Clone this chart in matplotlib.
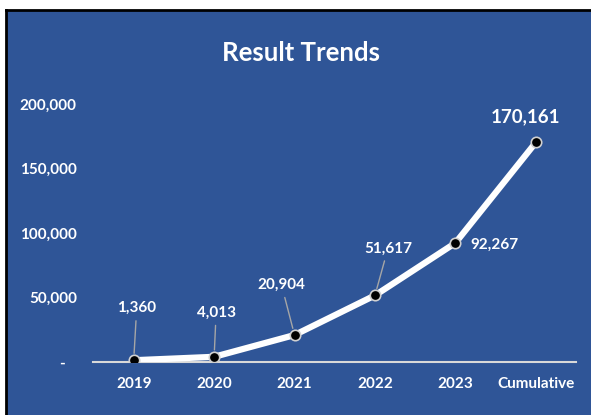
import matplotlib.pyplot as plt
from matplotlib.patches import Rectangle
from matplotlib.lines import Line2D

categories = ['2019', '2020', '2021', '2022', '2023', 'Cumulative']
results = [1360, 4013, 20904, 51617, 92267, 170161]
value_labels = ['1,360', '4,013', '20,904', '51,617', '92,267', '170,161']
ytick_values = [0, 50000, 100000, 150000, 200000]
ytick_labels = ['-   ', '50,000', '100,000', '150,000', '200,000']

# label offsets in pixels and whether a leader line is drawn
offsets = [(3, 52), (2, 44), (-13, 50), (13, 47), (39, -2), (-10, 26)]
leaders = [True, True, True, True, False, False]

BLUE = '#2F5597'
FONT = 'Lato'

fig = plt.figure(figsize=(5.91, 4.15), dpi=100)
fig.patch.set_facecolor('white')

# blue panel with black edge on top and left
W, H = 591, 415
fig.patches.append(Rectangle((7 / W, 0), 1, (H - 11) / H, transform=fig.transFigure,
                             facecolor=BLUE, edgecolor='none', zorder=-5))
fig.lines.append(Line2D([6 / W, 6 / W], [0, (H - 10) / H], transform=fig.transFigure,
                        color='black', lw=2, zorder=-4))
fig.lines.append(Line2D([6 / W, 1], [(H - 10) / H, (H - 10) / H], transform=fig.transFigure,
                        color='black', lw=2, zorder=-4))

fig.text(301 / W, 1 - 53 / H, 'Result Trends', color='white', fontsize=18.5,
         fontweight='bold', family=FONT, ha='center', va='center')

ax = fig.add_axes([93.5 / W, (H - 362) / H, (576 - 93.5) / W, 258 / H])
ax.set_zorder(2)
ax.set_facecolor('none')
x = list(range(len(categories)))
ax.plot(x, results, color='white', lw=4.5, solid_capstyle='round', zorder=3)
ax.plot(x, results, 'o', ms=7.5, mfc='black', mec='#D0D0D0', mew=1.2, zorder=4)

ax.set_xlim(-0.5, len(categories) - 0.5)
ax.set_ylim(0, 200000)
ax.set_xticks(x)
ax.set_xticklabels(categories)
ax.set_yticks(ytick_values)
ax.set_yticklabels(ytick_labels)
ax.tick_params(length=0, colors='white', labelsize=11)
ax.tick_params(axis='y', pad=12)
ax.tick_params(axis='x', pad=11)
for lab in ax.get_xticklabels() + ax.get_yticklabels():
    lab.set_fontweight('bold')
    lab.set_family(FONT)

for side in ['top', 'right', 'left']:
    ax.spines[side].set_visible(False)
ax.spines['bottom'].set_color('#D9D9D9')
ax.spines['bottom'].set_linewidth(1.5)

for i, (val, lab) in enumerate(zip(results, value_labels)):
    size = 13.5 if i == len(results) - 1 else 11
    props = None
    if leaders[i]:
        props = dict(arrowstyle='-', color='#A6A6A6', lw=1, shrinkA=2, shrinkB=5)
    ax.annotate(lab, (i, val), xytext=offsets[i], textcoords='offset pixels',
                ha='center', va='center', color='white', fontsize=size,
                fontweight='bold', family=FONT, arrowprops=props, zorder=5,
                annotation_clip=False)

fig.savefig('out.png', dpi=100)
